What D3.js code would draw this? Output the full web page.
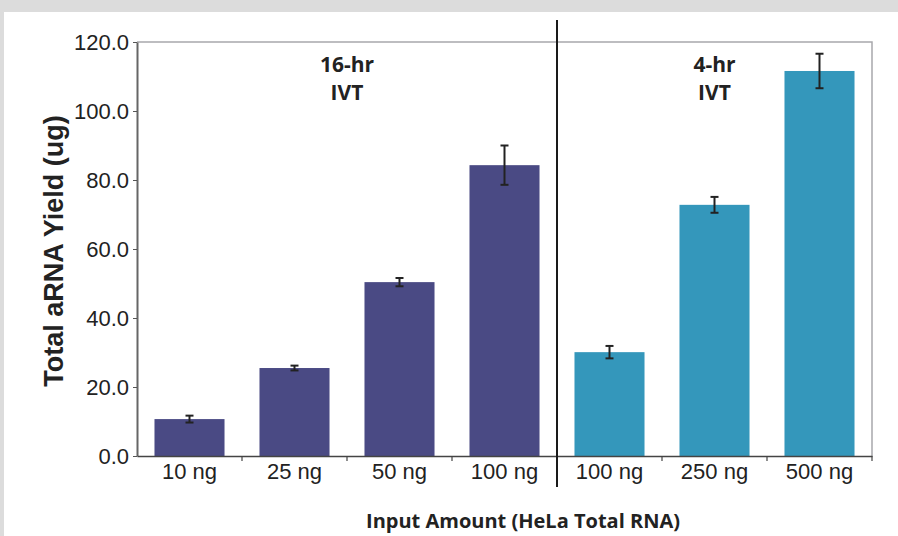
<!DOCTYPE html>
<html>
<head>
<meta charset="utf-8">
<script src="https://cdn.jsdelivr.net/npm/d3@7"></script>
<style>
  body { margin: 0; background: #fff; }
  svg { display: block; }
</style>
</head>
<body>
<svg id="svg" width="898" height="536"></svg>
<script>
// data
var categories = ["10 ng", "25 ng", "50 ng", "100 ng ", "100 ng", "250 ng", "500 ng"];
var groups = ["16hr", "16hr", "16hr", "16hr", "4hr", "4hr", "4hr"];
var yields = [10.7, 25.5, 50.4, 84.3, 30.1, 72.8, 111.6];
var errors = [1.0, 0.7, 1.2, 5.7, 1.8, 2.3, 5.0];
var yTicks = [0, 20, 40, 60, 80, 100, 120];
var groupLabels = [["16-hr", "IVT"], ["4-hr", "IVT"]];

var data = categories.map(function (c, i) {
  return {cat: c, group: groups[i], value: yields[i], err: errors[i]};
});

var svg = d3.select("#svg"),
  margin = {top: 42, right: 26, bottom: 80, left: 137},
  width = +svg.attr("width") - margin.left - margin.right,
  height = +svg.attr("height") - margin.top - margin.bottom;

// page frame
svg.append("rect").attr("width", 898).attr("height", 536).attr("fill", "#dcdcdc");
svg.append("rect").attr("x", 4).attr("y", 12).attr("width", 894).attr("height", 524).attr("fill", "#fff");

var g = svg.append("g")
  .attr("transform", "translate(" + margin.left + "," + margin.top + ")");

var x = d3.scaleBand().domain(categories).range([0, width]).paddingInner(0.333).paddingOuter(0.1665),
    y = d3.scaleLinear().domain([0, 120]).range([height, 0]),
    z = d3.scaleOrdinal().domain(["16hr", "4hr"]).range(["#4a4a84", "#3497bb"]);

// plot frame (top / right)
g.append("path")
  .attr("d", "M0,0H" + width + "V" + height)
  .attr("fill", "none")
  .attr("stroke", "#a8a8ac")
  .attr("stroke-width", 1.5);

// bars
g.selectAll(".bar")
  .data(data)
  .enter()
  .append("rect")
  .attr("class", "bar")
  .attr("x", function (d) { return x(d.cat); })
  .attr("width", x.bandwidth())
  .attr("y", function (d) { return y(d.value); })
  .attr("height", function (d) { return height - y(d.value); })
  .attr("fill", function (d) { return z(d.group); });

// error bars
var eb = g.selectAll(".err")
  .data(data)
  .enter()
  .append("g")
  .attr("class", "err")
  .attr("stroke", "#222")
  .attr("stroke-width", 2);

eb.append("line")
  .attr("x1", function (d) { return x(d.cat) + x.bandwidth() / 2; })
  .attr("x2", function (d) { return x(d.cat) + x.bandwidth() / 2; })
  .attr("y1", function (d) { return y(d.value + d.err); })
  .attr("y2", function (d) { return y(d.value - d.err); });

[1, -1].forEach(function (s) {
  eb.append("line")
    .attr("x1", function (d) { return x(d.cat) + x.bandwidth() / 2 - 4; })
    .attr("x2", function (d) { return x(d.cat) + x.bandwidth() / 2 + 4; })
    .attr("y1", function (d) { return y(d.value + s * d.err); })
    .attr("y2", function (d) { return y(d.value + s * d.err); });
});

// y axis
var yAxis = g.append("g")
  .attr("class", "axis axis--y")
  .call(d3.axisLeft(y).tickValues(yTicks).tickFormat(d3.format(".1f")).tickSize(4).tickSizeOuter(0));
yAxis.select(".domain").attr("stroke", "#666").attr("stroke-width", 2);
yAxis.selectAll(".tick line").attr("stroke", "#555");
yAxis.selectAll("text")
  .attr("x", -8)
  .attr("dy", "0.36em")
  .attr("fill", "#222")
  .style("font-family", "'Liberation Sans', Arial, sans-serif")
  .style("font-size", "22px");

// x axis with ticks between categories
var xAxis = g.append("g")
  .attr("class", "axis axis--x")
  .attr("transform", "translate(0," + height + ")")
  .call(d3.axisBottom(x).tickSize(0).tickSizeOuter(0));
xAxis.select(".domain").attr("stroke", "#444").attr("stroke-width", 1.5);
xAxis.selectAll("text")
  .attr("y", 7)
  .attr("dy", "0.71em")
  .attr("fill", "#222")
  .text(function (d) { return d.trim(); })
  .style("font-family", "'Liberation Sans', Arial, sans-serif")
  .style("font-size", "22px");

xAxis.selectAll(".sep")
  .data(categories.slice(1).concat(["end"]))
  .enter()
  .append("line")
  .attr("class", "sep")
  .attr("x1", function (d, i) { return x.step() * (i + 1); })
  .attr("x2", function (d, i) { return x.step() * (i + 1); })
  .attr("y1", 0)
  .attr("y2", 5)
  .attr("stroke", "#444")
  .attr("stroke-width", 1.2);

// divider between the two IVT groups
var divX = x.step() * 4;
g.append("line")
  .attr("x1", divX).attr("x2", divX)
  .attr("y1", -22).attr("y2", height + 31)
  .attr("stroke", "#1a1a1a")
  .attr("stroke-width", 2);

// group labels
var labelCenters = [x.step() * 2, x.step() * 5.5];
groupLabels.forEach(function (lines, i) {
  var t = g.append("text")
    .attr("text-anchor", "middle")
    .attr("fill", "#222")
    .style("font-family", "'Open Sans', sans-serif")
    .style("font-weight", "700")
    .style("font-size", "21px");
  lines.forEach(function (line, j) {
    t.append("tspan")
      .attr("x", labelCenters[i])
      .attr("y", 30 + j * 28)
      .text(line);
  });
});

// axis titles
svg.append("text")
  .attr("transform", "translate(63," + (margin.top + height / 2 + 2) + ") rotate(-90)")
  .attr("text-anchor", "middle")
  .attr("fill", "#222")
  .style("font-family", "'Liberation Sans', Arial, sans-serif")
  .style("font-weight", "700")
  .style("font-size", "27px")
  .text("Total aRNA Yield (ug)");

svg.append("text")
  .attr("x", 523)
  .attr("y", 528)
  .attr("text-anchor", "middle")
  .attr("fill", "#222")
  .style("font-family", "'Open Sans', sans-serif")
  .style("font-weight", "700")
  .style("font-size", "20px")
  .text("Input Amount (HeLa Total RNA)");
</script>
</body>
</html>
